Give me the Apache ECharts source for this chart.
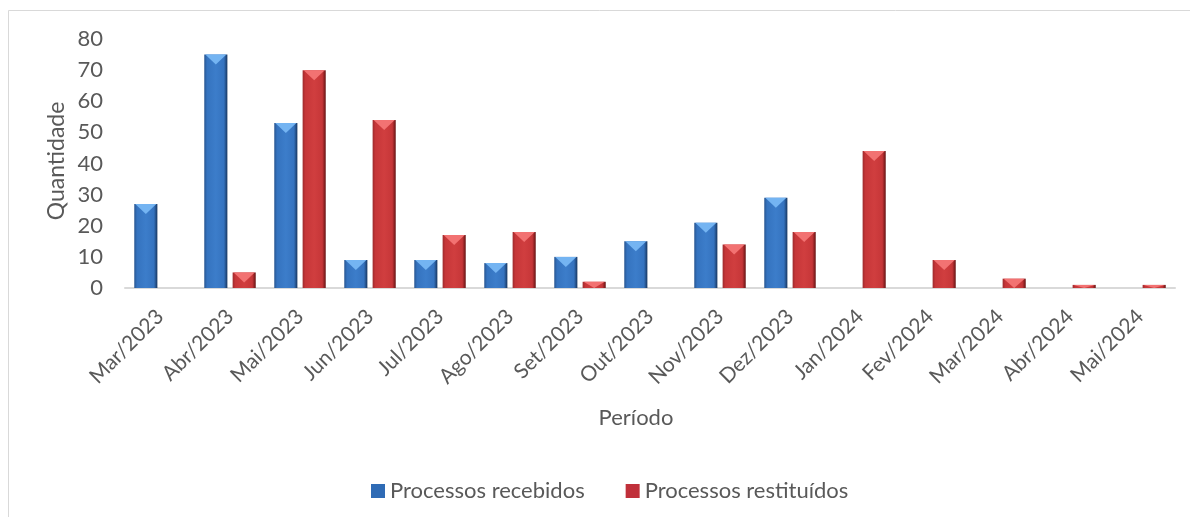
<!DOCTYPE html>
<html>
<head>
<meta charset="utf-8">
<script src="https://cdn.jsdelivr.net/npm/echarts@6/dist/echarts.min.js"></script>
<style>
html,body{margin:0;padding:0;background:#fff;}
#c{width:1190px;height:517px;}
</style>
</head>
<body>
<div id="c"></div>
<script>
const categories = ['Mar/2023','Abr/2023','Mai/2023','Jun/2023','Jul/2023','Ago/2023','Set/2023','Out/2023','Nov/2023','Dez/2023','Jan/2024','Fev/2024','Mar/2024','Abr/2024','Mai/2024'];
const recebidos = [27, 75, 53, 9, 9, 8, 10, 15, 21, 29, 0, 0, 0, 0, 0];
const restituidos = [0, 5, 70, 54, 17, 18, 2, 0, 14, 18, 44, 9, 3, 1, 1];
const seriesNames = ['Processos recebidos', 'Processos restituídos'];
const yTicks = { min: 0, max: 80, interval: 10 };

const FONT = 'Lato';
const TXT = '#595959';

const palettes = [
  { edgeL: '#27548f', body: '#3573bf', mid: '#3c7dca', edgeR: '#17365f', tri: '#74b4f2' },
  { edgeL: '#9e2a2c', body: '#c63638', mid: '#d03e3f', edgeR: '#651313', tri: '#f27272' }
];

function makeRender(si) {
  return function (params, api) {
    const v = api.value(1);
    if (!(v > 0)) return null;
    const idx = api.value(0);
    const base = api.coord([idx, 0]);
    const top = api.coord([idx, v]);
    const band = api.size([1, 0])[0];
    const bw = band * 0.33;
    const gap = band * 0.075;
    const x = si === 0 ? base[0] - gap / 2 - bw : base[0] + gap / 2;
    const y = top[1];
    const h = base[1] - top[1];
    const p = palettes[si];
    const th = Math.min(h, 10);
    return {
      type: 'group',
      children: [
        {
          type: 'rect',
          shape: { x: x, y: y, width: bw, height: h },
          style: {
            fill: new echarts.graphic.LinearGradient(0, 0, 1, 0, [
              { offset: 0, color: p.edgeL },
              { offset: 0.12, color: p.body },
              { offset: 0.5, color: p.mid },
              { offset: 0.85, color: p.body },
              { offset: 1, color: p.edgeR }
            ])
          }
        },
        {
          type: 'polygon',
          shape: { points: [[x + 1, y], [x + bw - 1, y], [x + bw / 2, y + th]] },
          style: { fill: p.tri }
        }
      ]
    };
  };
}

const chart = echarts.init(document.getElementById('c'), null, { renderer: 'canvas' });
chart.setOption({
  backgroundColor: '#ffffff',
  animation: false,
  textStyle: { fontFamily: FONT },
  grid: { left: 125, right: 15, top: 39, bottom: 229, containLabel: false },
  xAxis: {
    type: 'category',
    data: categories,
    boundaryGap: true,
    axisLine: { show: true, lineStyle: { color: '#D9D9D9', width: 2 } },
    axisTick: { show: false },
    axisLabel: { rotate: 45, color: TXT, fontSize: 21, fontFamily: FONT, margin: 25, interval: 0 }
  },
  yAxis: {
    type: 'value',
    min: yTicks.min, max: yTicks.max, interval: yTicks.interval,
    axisLine: { show: false },
    axisTick: { show: false },
    splitLine: { show: false },
    axisLabel: { color: TXT, fontSize: 22, fontFamily: FONT, margin: 22 }
  },
  legend: {
    left: 371,
    top: 480,
    padding: 0,
    itemWidth: 14,
    itemHeight: 14,
    itemGap: 41,
    icon: 'rect',
    textStyle: { color: TXT, fontSize: 22, fontFamily: FONT },
    data: seriesNames
  },
  graphic: [
    { type: 'rect', shape: { x: 8.5, y: 10.5, width: 1200, height: 530 }, style: { fill: 'none', stroke: '#D9D9D9', lineWidth: 1 }, silent: true },
    { type: 'text', x: 57, y: 161, rotation: Math.PI / 2, style: { text: 'Quantidade', fill: TXT, font: '23px ' + FONT, textAlign: 'center', textVerticalAlign: 'middle' } },
    { type: 'text', x: 636, y: 418, style: { text: 'Período', fill: TXT, font: '22px ' + FONT, textAlign: 'center', textVerticalAlign: 'middle' } }
  ],
  series: [
    {
      name: seriesNames[0], type: 'custom',
      itemStyle: { color: '#2f6bb5' },
      encode: { x: 0, y: 1 },
      data: recebidos.map((v, i) => [i, v]),
      renderItem: makeRender(0)
    },
    {
      name: seriesNames[1], type: 'custom',
      itemStyle: { color: '#c0303a' },
      encode: { x: 0, y: 1 },
      data: restituidos.map((v, i) => [i, v]),
      renderItem: makeRender(1)
    }
  ]
});
</script>
</body>
</html>
